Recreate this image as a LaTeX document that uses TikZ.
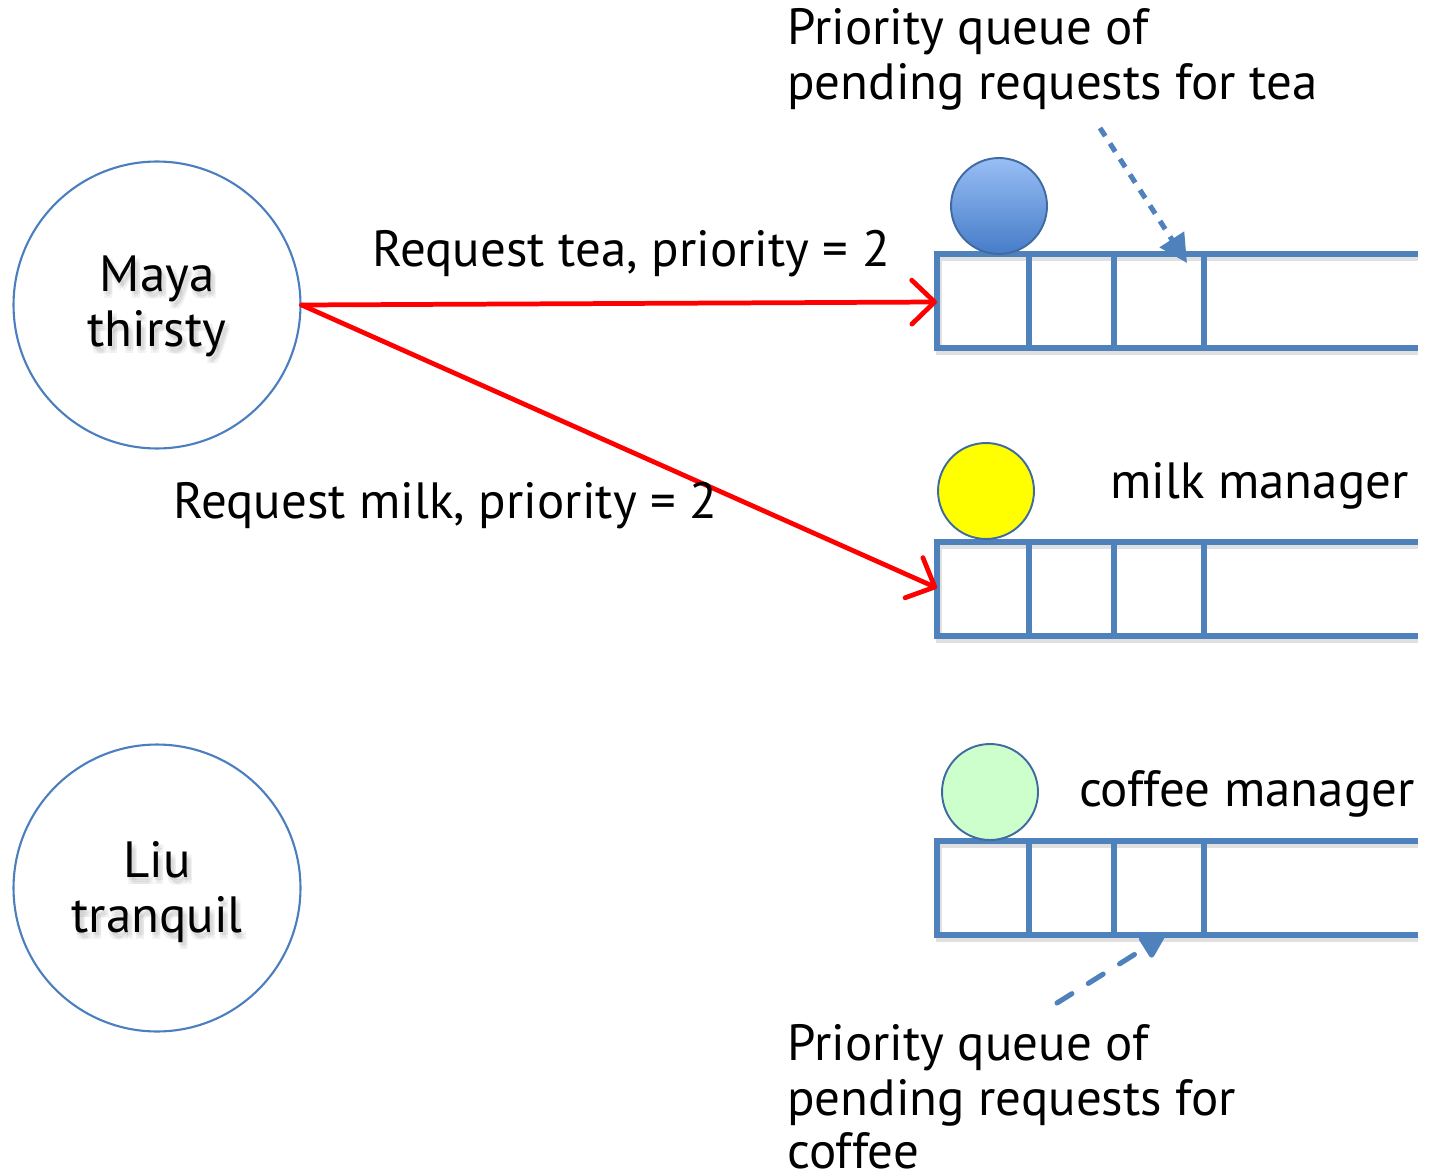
\documentclass[tikz,border=0pt]{standalone}
\usepackage{fontspec}
\setmainfont{PT Sans}
\usetikzlibrary{arrows.meta}

\definecolor{qblue}{RGB}{79,129,189}
\definecolor{rimblue}{RGB}{74,126,190}
\definecolor{balltop}{RGB}{152,190,245}
\definecolor{ballbot}{RGB}{70,124,200}
\definecolor{milkfill}{RGB}{255,255,0}
\definecolor{coffeefill}{RGB}{204,255,204}
\definecolor{reqred}{RGB}{255,0,0}

% one line of text with a soft drop shadow behind it
\newcommand\softline[4]{%
  \foreach \sx/\sy [count=\k] in {1/3,5/3,1/7,5/7,3/5}
    \node[label text, anchor=base, text=black!70, opacity=0.07] (#1s\k) at (#2+\sx,#3+\sy) {#4};
  \node[label text, anchor=base] (#1) at (#2,#3) {#4};
}

\begin{document}
\begin{tikzpicture}[x=0.02cm, y=-0.02cm,
  label text/.style={font=\fontsize{29}{31.2}\selectfont, inner sep=0pt},
  person/.style={circle, draw=rimblue, line width=1.2pt, minimum size=5.74cm, inner sep=0pt},
  ball/.style={circle, draw=rimblue!85!black, line width=1.1pt, minimum size=1.92cm, inner sep=0pt},
  queue/.style={draw=qblue, line width=2.9pt, line join=miter},
  qshadow/.style={draw=black, opacity=0.12, line width=3.6pt},
  request/.style={draw=reqred, line width=2.7pt, line cap=round,
    -{Straight Barb[length=13pt, width=25pt, line cap=round, line join=round]}},
  pointer dotted/.style={draw=qblue, line width=2.9pt, dash pattern=on 5.5pt off 5pt,
    -{Triangle[length=16pt, width=16pt]}},
  pointer dashed/.style={draw=qblue, line width=2.9pt, line cap=round, dash pattern=on 10pt off 11pt,
    -{Triangle[length=15pt, width=15pt, round]}}
]
\useasboundingbox (0,0) rectangle (1432,1175);

% the two customers
\node[person] (maya) at (157,305) {};
\node[person] (liu) at (157,888) {};
\softline{mayaA}{157}{292}{Maya}
\softline{mayaB}{157}{347}{thirsty}
\softline{liuA}{157}{877}{Liu}
\softline{liuB}{157}{932}{tranquil}

% three queues, open on the right: top edge, bottom edge and slot walls
\foreach \qt in {254, 542, 841}{
  \path[qshadow] (937+2,\qt+4) -- (1418,\qt+4)
        (937+2,\qt+4) -- (937+2,\qt+98) -- (1418,\qt+98);
  \path[queue] (1418,\qt) -- (937,\qt) -- (937,\qt+94) -- (1418,\qt+94);
  \foreach \wx in {1029,1114,1204}
    \path[queue] (\wx,\qt) -- (\wx,\qt+94);
}
\coordinate (teain) at (937,302);
\coordinate (milkin) at (937,588);

% the manager tokens sitting on each queue
\node[ball, top color=balltop, bottom color=ballbot] (teaball) at (999,206) {};
\node[ball, fill=milkfill] (milkball) at (986,491) {};
\node[ball, fill=coffeefill] (coffeeball) at (990,792) {};

% requests from Maya
\draw[request] (maya.east) -- (teain);
\draw[request] (maya.east) -- (milkin);
\node[label text, anchor=base west] (reqtea) at (372,267) {Request tea, priority = 2};
\node[label text, anchor=base west] (reqmilk) at (173,518) {Request milk, priority = 2};

% manager names
\node[label text, anchor=base east] (milkname) at (1409,498) {milk manager};
\node[label text, anchor=base east] (coffeename) at (1415,806) {coffee manager};

% captions pointing at the queues
\node[label text, anchor=base west] (teacapA) at (787,45) {Priority queue of};
\node[label text, anchor=base west] (teacapB) at (787,100) {pending requests for tea};
\coordinate (teatail) at (1100,128);
\coordinate (teahead) at (1187,263);
\draw[pointer dotted] (teatail) -- (teahead);

\node[label text, anchor=base west] (cofcapA) at (787,1060) {Priority queue of};
\node[label text, anchor=base west] (cofcapB) at (787,1115) {pending requests for};
\node[label text, anchor=base west] (cofcapC) at (787,1168) {coffee};
\coordinate (coftail) at (1057,1003);
\coordinate (cofhead) at (1164,936);
\draw[pointer dashed] (coftail) -- (cofhead);
\end{tikzpicture}
\end{document}
